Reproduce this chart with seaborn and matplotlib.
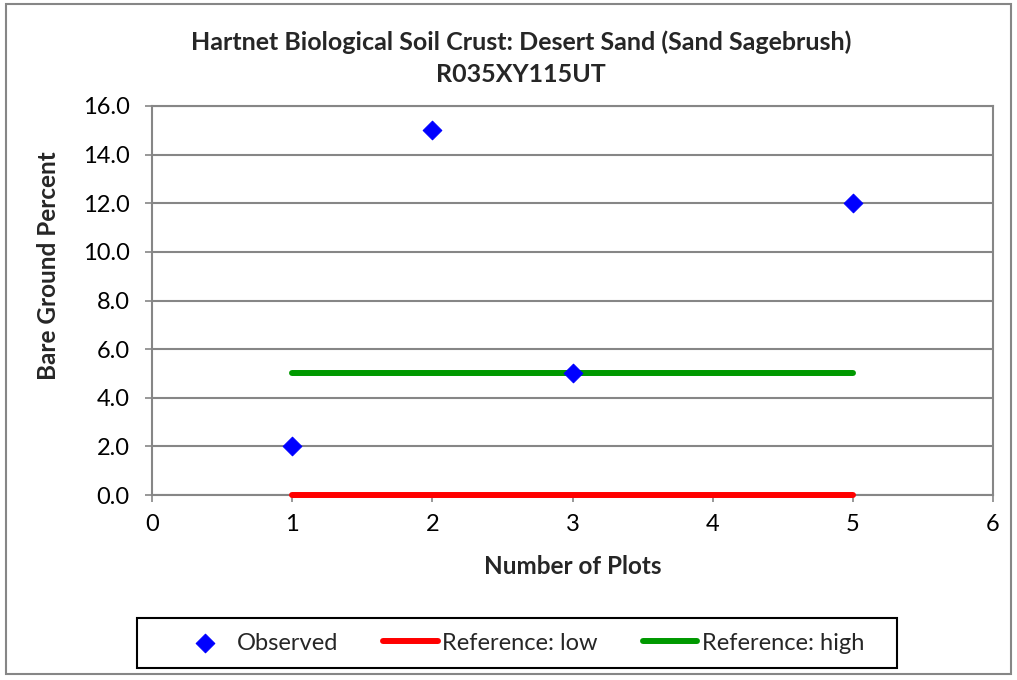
import matplotlib
matplotlib.use("Agg")
import matplotlib.pyplot as plt
import seaborn as sns
import pandas as pd
from matplotlib.patches import Rectangle
from matplotlib.ticker import FormatStrFormatter

# Data
obs_x = [1, 2, 3, 5]
obs_y = [2.0, 15.0, 5.0, 12.0]
ref_x = [1, 5]
ref_low = [0.0, 0.0]
ref_high = [5.0, 5.0]
y_ticks = [0, 2, 4, 6, 8, 10, 12, 14, 16]
x_ticks = [0, 1, 2, 3, 4, 5, 6]

sns.set_theme(style="white")
plt.rcParams['font.family'] = ['Lato', 'DejaVu Sans']

fig = plt.figure(figsize=(10.17, 6.8), dpi=100)
ax = fig.add_axes([152/1017, 1 - 495/680, (993-152)/1017, (495-106)/680])

obs = pd.DataFrame({"x": obs_x, "y": obs_y})
low = pd.DataFrame({"x": ref_x, "y": ref_low})
high = pd.DataFrame({"x": ref_x, "y": ref_high})

sns.lineplot(data=low, x="x", y="y", ax=ax, color="#ff0000", linewidth=4.3,
             label="Reference: low", zorder=3, solid_capstyle="round", clip_on=False)
sns.lineplot(data=high, x="x", y="y", ax=ax, color="#009900", linewidth=4.3,
             label="Reference: high", zorder=3, solid_capstyle="round")
sns.scatterplot(data=obs, x="x", y="y", ax=ax, marker="D", s=90, color="#0000ff",
                edgecolor="#0000ff", label="Observed", zorder=4, clip_on=False)

ax.set_xlim(0, 6)
ax.set_ylim(0, 16)
ax.set_xticks(x_ticks)
ax.set_yticks(y_ticks)
ax.yaxis.set_major_formatter(FormatStrFormatter('%.1f'))
ax.grid(axis='y', color="#868686", linewidth=1.5)
ax.set_axisbelow(True)
for s in ax.spines.values():
    s.set_color("#868686")
    s.set_linewidth(1.5)
ax.tick_params(axis='both', labelsize=17, labelcolor="#000000", color="#868686",
               length=5, width=1.2, direction='out', bottom=True, left=True)
ax.tick_params(axis='y', pad=11)
ax.tick_params(axis='x', pad=9)
ax.set_xlabel("Number of Plots", fontsize=17.5, fontweight='bold', labelpad=14)
ax.set_ylabel("Bare Ground Percent", fontsize=17.5, fontweight='bold')
ax.yaxis.set_label_coords(-0.109, 0.59)

fig.text(0.512, 1 - 42/680, "Hartnet Biological Soil Crust: Desert Sand (Sand Sagebrush)",
         ha='center', va='center', fontsize=18, fontweight='bold')
fig.text(0.512, 1 - 75/680, "R035XY115UT", ha='center', va='center', fontsize=18, fontweight='bold')

h, l = ax.get_legend_handles_labels()
order = [l.index("Observed"), l.index("Reference: low"), l.index("Reference: high")]
if ax.legend_:
    ax.legend_.remove()
leg = fig.legend([h[i] for i in order], [l[i] for i in order], loc='center',
                 bbox_to_anchor=(521/1017, 1 - 643/680), ncol=3, fontsize=17,
                 frameon=False, handlelength=2.3,
                 handletextpad=0.2, columnspacing=1.9, borderpad=0.35)

fig.patches.append(Rectangle((137/1017, 1 - 668/680), 760/1017, 50/680, transform=fig.transFigure,
                             fill=False, edgecolor="black", linewidth=1.5))
fig.patches.append(Rectangle((6/1017, 6/680), 1005/1017, 670/680, transform=fig.transFigure,
                             fill=False, edgecolor="#868686", linewidth=1.5))

fig.savefig("out.png", dpi=100, facecolor="white")
